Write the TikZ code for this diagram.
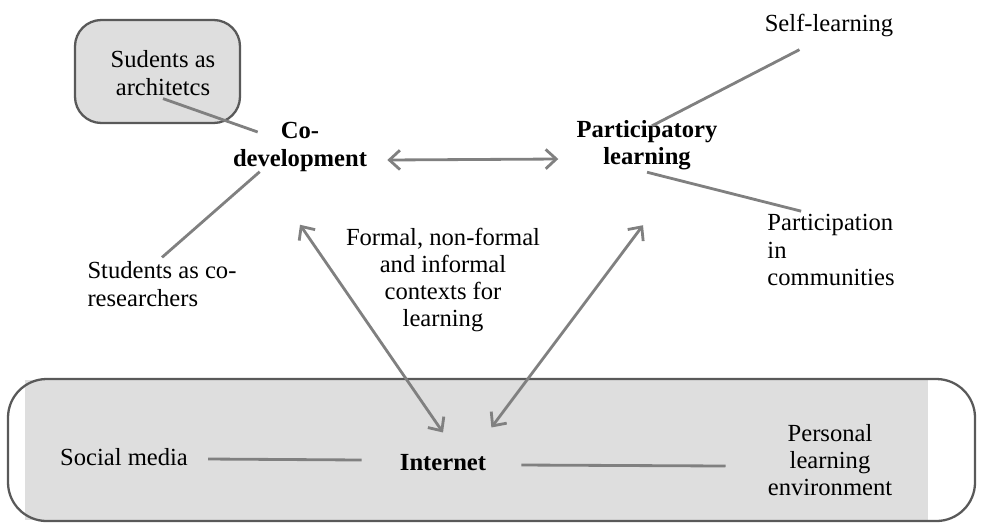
\documentclass[tikz,border=0pt]{standalone}
\usepackage{fontspec}
\setmainfont{Liberation Serif}
\usepackage{xcolor}
\usetikzlibrary{arrows}
\usetikzlibrary{arrows.meta}
\definecolor{boxgray}{HTML}{DEDEDE}
\definecolor{edgegray}{HTML}{595959}
\definecolor{linkgray}{HTML}{808080}

\begin{document}
\begin{tikzpicture}[x=0.02cm, y=-0.02cm] %Einheiten: 1 = ein Pixel des Originals
\tikzstyle{every node} = [font=\fontsize{14}{15.5}\selectfont, align=center, inner sep=0pt]
\tikzstyle{key} = [font=\fontsize{14}{15.5}\selectfont\bfseries]
\tikzstyle{link} = [draw=linkgray, line width=1.6pt]
\tikzstyle{both} = [link, {Straight Barb[length=6pt,width=11pt]}-{Straight Barb[length=6pt,width=11pt]}]
\useasboundingbox (0,0) rectangle (982,525);
% Internet-Band unten
\fill[boxgray] (25,380) rectangle (928,520);
\draw[edgegray, line width=1.3pt, rounded corners=22] (8,379) rectangle (975,521);
% Kasten oben links
\draw[edgegray, fill=boxgray, line width=1.3pt, rounded corners=15] (75,20) rectangle (240,123);
\node (arch) at (163,73) {Sudents as\\architetcs};
\node[key] (codev) at (300,147) {Co-\\development};
\node[align=left] (cores) at (162,284) {Students as co-\\researchers};
\node[key] (partl) at (647,145) {Participatory\\learning};
\node (self) at (829,25) {Self-learning};
\node[align=left] (comm) at (831,250) {Participation\\in\\communities};
\node (ctx) at (443,280) {Formal, non-formal\\and informal\\contexts for\\learning};
\node[key] (net) at (443,463) {Internet};
\node (soc) at (124,457) {Social media};
\node (ple) at (830,460) {Personal\\learning\\environment};
% Verbindungen
\draw [link] ([shift={(0,3)}]arch.south) -- ([shift={(25,-15)}]codev.west);
\draw [link] ([shift={(27,0)}]codev.south west) -- ([shift={(0,-4)}]cores.north);
\draw [link] ([shift={(5,6)}]partl.north) -- ([shift={(35,13)}]self.south west);
\draw [link] ([shift={(0,2)}]partl.south) -- ([shift={(34,-3)}]comm.north west);
\draw [link] ([shift={(20,2)}]soc.east) -- ([shift={(-38,-3)}]net.west);
\draw [link] ([shift={(35,2)}]net.east) -- ([shift={(-42,6)}]ple.west);
\draw [both] ([shift={(20,13)}]codev.east) -- ([shift={(-18,14)}]partl.west);
\draw [both] ([shift={(0,53)}]codev.south) -- ([shift={(0,-22)}]net.north);
\draw [both] ([shift={(-4,55)}]partl.south) -- ([shift={(5,-27)}]net.north east);
\end{tikzpicture}
\end{document}
